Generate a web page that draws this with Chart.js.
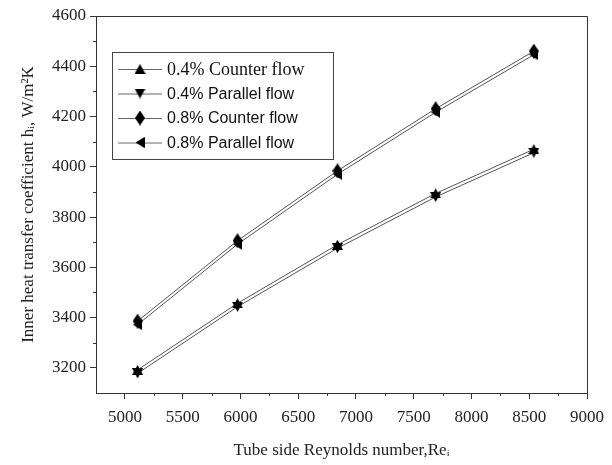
<!DOCTYPE html>
<html>
<head>
<meta charset="utf-8">
<script src="https://cdn.jsdelivr.net/npm/chart.js@4.4.1/dist/chart.umd.min.js"></script>
<style>
  html, body { margin: 0; padding: 0; background: #fff; }
</style>
</head>
<body>
<canvas id="chart" width="612" height="465"></canvas>
<script>
// Data
const reynolds = [5110, 5975, 6840, 7690, 8540];
const counter04 = [3192, 3457, 3690, 3894, 4070];
const parallel04 = [3178, 3443, 3676, 3880, 4056];
const counter08 = [3386, 3706, 3984, 4231, 4460];
const parallel08 = [3372, 3692, 3970, 4217, 4446];
const seriesLabels = ['0.4% Counter flow', '0.4% Parallel flow', '0.8% Counter flow', '0.8% Parallel flow'];
const xTicks = [5000, 5500, 6000, 6500, 7000, 7500, 8000, 8500, 9000];
const yTicks = [3200, 3400, 3600, 3800, 4000, 4200, 4400, 4600];

// Marker images (black filled shapes)
function makeMarker(w, h, pts) {
    const c = document.createElement('canvas');
    c.width = w; c.height = h;
    const g = c.getContext('2d');
    g.fillStyle = '#000';
    g.beginPath();
    g.moveTo(pts[0][0], pts[0][1]);
    for (let i = 1; i < pts.length; i++) g.lineTo(pts[i][0], pts[i][1]);
    g.closePath();
    g.fill();
    return c;
}
const upTri = makeMarker(11, 10, [[5.5, 0], [11, 10], [0, 10]]);
const downTri = makeMarker(11, 10, [[0, 0], [11, 0], [5.5, 10]]);
const diamond = makeMarker(10, 15, [[5, 0], [10, 7.5], [5, 15], [0, 7.5]]);
const leftTri = makeMarker(9, 11, [[0, 5.5], [9, 0], [9, 11]]);
const markers = [upTri, downTri, diamond, leftTri];

function toPoints(ys) {
    return reynolds.map((x, i) => ({ x: x, y: ys[i] }));
}

const serif = '"Liberation Serif", "Times New Roman", serif';

// Frame, minor ticks and legend box
const extras = {
    id: 'extras',
    afterDraw(chart) {
        const { ctx, chartArea: a, scales } = chart;
        const x = scales.x, y = scales.y;
        ctx.save();
        ctx.strokeStyle = '#333';
        ctx.lineWidth = 1;
        ctx.beginPath();
        ctx.moveTo(a.left, Math.round(a.top) + 0.5);
        ctx.lineTo(Math.round(a.right) + 0.5, Math.round(a.top) + 0.5);
        ctx.lineTo(Math.round(a.right) + 0.5, a.bottom);
        ctx.stroke();

        // minor ticks
        ctx.beginPath();
        for (let v = 5250; v < 9000; v += 500) {
            const px = Math.round(x.getPixelForValue(v)) + 0.5;
            ctx.moveTo(px, a.bottom);
            ctx.lineTo(px, a.bottom + 3);
        }
        for (let v = 3300; v < 4600; v += 200) {
            const py = Math.round(y.getPixelForValue(v)) + 0.5;
            ctx.moveTo(a.left - 3, py);
            ctx.lineTo(a.left, py);
        }
        ctx.stroke();

        // legend
        const lx = a.left + 16, ly = a.top + 36;
        ctx.strokeStyle = '#444';
        ctx.strokeRect(lx + 0.5, ly + 0.5, 221, 107);
        const sans = '16px "Liberation Sans", Arial, sans-serif';
        const fonts = ['18px ' + serif, sans, sans, sans];
        ctx.textBaseline = 'middle';
        ctx.fillStyle = '#111';
        for (let i = 0; i < 4; i++) {
            const cy = ly + 17 + i * 24.5;
            ctx.strokeStyle = '#666';
            ctx.beginPath();
            ctx.moveTo(lx + 6, cy + 0.5);
            ctx.lineTo(lx + 50, cy + 0.5);
            ctx.stroke();
            const m = markers[i];
            ctx.drawImage(m, lx + 28 - m.width / 2, cy - m.height / 2);
            ctx.font = fonts[i];
            ctx.fillText(seriesLabels[i], lx + 55, cy + 1);
        }
        ctx.restore();
    }
};

const datasets = [counter04, parallel04, counter08, parallel08].map((ys, i) => ({
    label: seriesLabels[i],
    data: toPoints(ys),
    borderColor: '#555',
    borderWidth: 1,
    pointStyle: markers[i],
    pointRadius: 5,
    tension: 0,
    fill: false
}));

new Chart(document.getElementById('chart'), {
    type: 'line',
    data: { datasets: datasets },
    options: {
        responsive: false,
        animation: false,
        layout: { padding: { top: 16, right: 21, left: 0, bottom: 0 } },
        plugins: {
            legend: { display: false },
            tooltip: { enabled: false }
        },
        scales: {
            x: {
                type: 'linear',
                min: 4750,
                max: 9000,
                ticks: {
                    color: '#222',
                    padding: 8,
                    font: { family: serif, size: 17 },
                    maxRotation: 0,
                    callback: v => String(v)
                },
                afterBuildTicks(scale) {
                    scale.ticks = xTicks.map(v => ({ value: v }));
                },
                afterFit(scale) { scale.height = 72; },
                grid: { display: true, drawOnChartArea: false, drawTicks: true, tickLength: 6, color: '#333' },
                border: { color: '#333', width: 1 },
                title: {
                    display: true,
                    text: 'Tube side Reynolds number,Reᵢ',
                    color: '#222',
                    font: { family: serif, size: 17 },
                    padding: { top: 0, bottom: 4 }
                }
            },
            y: {
                type: 'linear',
                min: 3100,
                max: 4600,
                ticks: {
                    color: '#222',
                    padding: 4,
                    font: { family: serif, size: 17 },
                    callback: v => String(v)
                },
                afterBuildTicks(scale) {
                    scale.ticks = yTicks.map(v => ({ value: v }));
                },
                afterFit(scale) { scale.width = 96; },
                grid: { display: true, drawOnChartArea: false, drawTicks: true, tickLength: 6, color: '#333' },
                border: { color: '#333', width: 1 },
                title: {
                    display: true,
                    text: 'Inner heat transfer coefficient hᵢ, W/m²K',
                    color: '#222',
                    font: { family: serif, size: 17 },
                    padding: { top: 18, bottom: 0 }
                }
            }
        }
    },
    plugins: [extras]
});
</script>
</body>
</html>
